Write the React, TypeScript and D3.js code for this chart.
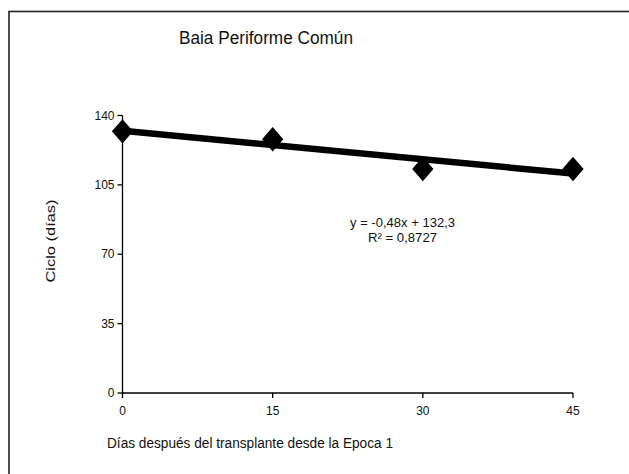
import React, { useEffect, useRef } from 'react';
import * as d3 from 'd3';

// chart data
const dias = [0, 15, 30, 45];
const ciclo = [132, 128, 113, 113];
const yTicks = [0, 35, 70, 105, 140];
const xTicks = [0, 15, 30, 45];
const titulo = 'Baia Periforme Común';
const ejeX = 'Días después del transplante desde la Epoca 1';
const ejeY = 'Ciclo (días)';

const font = '"Liberation Sans", Arial, sans-serif';

function App() {
  const ref = useRef<SVGSVGElement>(null);

  useEffect(() => {
    const svg = d3.select(ref.current);
    svg.selectAll('*').remove();

    // outer chart border (runs off the right and bottom edges)
    svg.append('rect')
      .attr('x', 9).attr('y', 11.5)
      .attr('width', 700).attr('height', 600)
      .attr('fill', 'white')
      .attr('stroke', '#222').attr('stroke-width', 1.6);

    const x = d3.scaleLinear().domain([0, 45]).range([122.5, 573]);
    const y = d3.scaleLinear().domain([0, 140]).range([393, 115.5]);

    // y axis
    const gy = svg.append('g').attr('transform', `translate(${x(0)},0)`);
    gy.append('line').attr('y1', y(0)).attr('y2', y(140)).attr('stroke', 'black').attr('stroke-width', 1.3);
    yTicks.forEach(t => {
      gy.append('line').attr('x1', -5).attr('x2', 0).attr('y1', y(t)).attr('y2', y(t))
        .attr('stroke', 'black').attr('stroke-width', 1.3);
      gy.append('text').attr('x', -8).attr('y', y(t)).attr('dy', '0.35em')
        .attr('text-anchor', 'end').attr('font-family', font).attr('font-size', 12)
        .attr('fill', '#111').text(t);
    });

    // x axis
    const gx = svg.append('g').attr('transform', `translate(0,${y(0)})`);
    gx.append('line').attr('x1', x(0)).attr('x2', x(45)).attr('stroke', 'black').attr('stroke-width', 1.3);
    xTicks.forEach(t => {
      gx.append('line').attr('x1', x(t)).attr('x2', x(t)).attr('y1', 0).attr('y2', 5)
        .attr('stroke', 'black').attr('stroke-width', 1.3);
      gx.append('text').attr('x', x(t)).attr('y', 18).attr('dy', '0.35em')
        .attr('text-anchor', 'middle').attr('font-family', font).attr('font-size', 12)
        .attr('fill', '#111').text(t);
    });

    // trend line from the regression of the data
    const mx = d3.mean(dias)!;
    const my = d3.mean(ciclo)!;
    const slope = d3.sum(dias, (d, i) => (d - mx) * (ciclo[i] - my)) / d3.sum(dias, d => (d - mx) ** 2);
    const icpt = my - slope * mx;
    const sst = d3.sum(ciclo, v => (v - my) ** 2);
    const r2 = (slope * slope * d3.sum(dias, d => (d - mx) ** 2)) / sst;

    const line = d3.line<number>().x(d => x(d)).y(d => y(icpt + slope * d));
    svg.append('path').datum([0, 45]).attr('d', line)
      .attr('fill', 'none').attr('stroke', 'black').attr('stroke-width', 6.5);

    // diamond markers
    const diamond = d3.symbol().type(d3.symbolDiamond2).size(380);
    dias.forEach((d, i) => {
      svg.append('path').attr('d', diamond)
        .attr('transform', `translate(${x(d)},${y(ciclo[i])}) scale(0.87,1)`)
        .attr('fill', 'black');
    });

    const fmt = (v: number, n: number) => v.toFixed(n).replace('.', ',');
    svg.append('text').attr('x', 350).attr('y', 222).attr('dy', '0.35em')
      .attr('font-family', font).attr('font-size', 13).attr('fill', '#111')
      .attr('textLength', 105).attr('lengthAdjust', 'spacingAndGlyphs')
      .text(`y = ${fmt(slope, 2)}x + ${fmt(icpt, 1)}`);
    svg.append('text').attr('x', 368).attr('y', 237).attr('dy', '0.35em')
      .attr('font-family', font).attr('font-size', 13).attr('fill', '#111')
      .attr('textLength', 69).attr('lengthAdjust', 'spacingAndGlyphs')
      .text(`R² = ${fmt(r2, 4)}`);

    // titles
    svg.append('text').attr('x', 179).attr('y', 44)
      .attr('font-family', font).attr('font-size', 17.5).attr('fill', '#111')
      .attr('textLength', 174).attr('lengthAdjust', 'spacingAndGlyphs')
      .text(titulo);
    svg.append('text').attr('x', 107).attr('y', 443).attr('dy', '0.35em')
      .attr('font-family', font).attr('font-size', 14).attr('fill', '#111')
      .attr('textLength', 286).attr('lengthAdjust', 'spacingAndGlyphs')
      .text(ejeX);
    svg.append('text')
      .attr('transform', `translate(50,241) rotate(-90)`)
      .attr('dy', '0.35em').attr('text-anchor', 'middle')
      .attr('font-family', font).attr('font-size', 13).attr('fill', '#111')
      .attr('textLength', 83).attr('lengthAdjust', 'spacingAndGlyphs')
      .text(ejeY);
  }, []);

  return (
    <svg ref={ref} width={629} height={474}
      style={{ position: 'absolute', left: 0, top: 0, background: 'white' }} />
  );
}

export default App;
